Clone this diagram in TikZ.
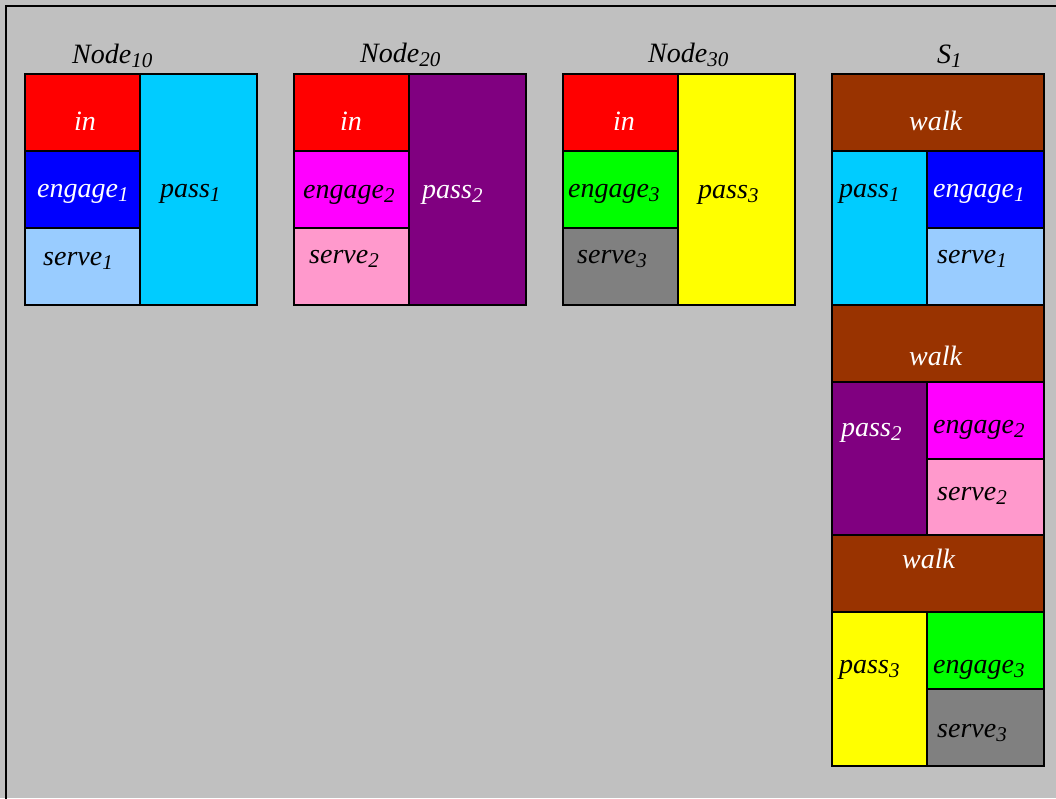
\documentclass[tikz,border=0pt]{standalone}
\usepackage{fontspec}
\setmainfont{Liberation Serif}
\usetikzlibrary{positioning}
\definecolor{bggray}{HTML}{C0C0C0}
\definecolor{inred}{HTML}{FF0000}
\definecolor{engblue}{HTML}{0000FF}
\definecolor{srvblue}{HTML}{99CCFF}
\definecolor{pscyan}{HTML}{00CCFF}
\definecolor{engmag}{HTML}{FF00FF}
\definecolor{srvpink}{HTML}{FF99CC}
\definecolor{pspurple}{HTML}{800080}
\definecolor{enggreen}{HTML}{00FF00}
\definecolor{srvgray}{HTML}{808080}
\definecolor{psyellow}{HTML}{FFFF00}
\definecolor{walkbrown}{HTML}{993300}
\newcommand{\idx}[1]{\raisebox{-4.5pt}{\fontsize{21}{21}\selectfont #1}}
\tikzset{
  cell/.style={draw=black,line width=1.6pt,fill=#1,inner sep=0pt,outer sep=0pt,anchor=north west},
  lbl/.style={font=\fontsize{28}{30}\selectfont\itshape,text=#1,inner sep=0pt,anchor=base west},
  lbl/.default=black,
}
\begin{document}
\begin{tikzpicture}[x=1pt,y=-1pt]
  \clip (0,0) rectangle (1056,798);
  \fill[bggray] (0,0) rectangle (1056,798);
  \draw[line width=2.4pt] (6,6) rectangle (1080,820);
  % node blocks
  \foreach \x/\y/\w/\h/\c/\n in {
    25/74/115/77/inred/a-in, 25/151/115/77/engblue/a-eng, 25/228/115/77/srvblue/a-srv, 140/74/117/231/pscyan/a-pass,
    294/74/115/77/inred/b-in, 294/151/115/77/engmag/b-eng, 294/228/115/77/srvpink/b-srv, 409/74/117/231/pspurple/b-pass,
    563/74/115/77/inred/c-in, 563/151/115/77/enggreen/c-eng, 563/228/115/77/srvgray/c-srv, 678/74/117/231/psyellow/c-pass}
  {
    \node[cell=\c,minimum width=\w*1pt,minimum height=\h*1pt] (\n) at (\x,\y) {};
  }
  % S1 stack
  \foreach \y/\p/\e/\s/\k in {74/pscyan/engblue/srvblue/1, 305/pspurple/engmag/srvpink/2, 535/psyellow/enggreen/srvgray/3}
  {
    \node[cell=walkbrown,minimum width=212pt,minimum height=77pt] (s-walk\k) at (832,\y) {};
    \node[cell=\p,minimum width=95pt,minimum height=154pt] (s-pass\k) at (s-walk\k.south west) {};
    \node[cell=\e,minimum width=117pt,minimum height=77pt] (s-eng\k) at (s-pass\k.north east) {};
    \node[cell=\s,minimum width=117pt,minimum height=77pt] (s-srv\k) at (s-eng\k.south west) {};
  }
  % titles
  \node[lbl] (t-a) at (72,63) {Node\idx{10}};
  \node[lbl] (t-b) at (360,62) {Node\idx{20}};
  \node[lbl] (t-c) at (648,62) {Node\idx{30}};
  \node[lbl] (t-s) at (937,63) {S\idx{1}};
  % labels
  \node[lbl=white] (l-a-in) at (74,130) {in};
  \node[lbl=white] (l-a-eng) at (37,197) {engage\idx{1}};
  \node[lbl] (l-a-srv) at (43,265) {serve\idx{1}};
  \node[lbl] (l-a-pass) at (160,197) {pass\idx{1}};
  \node[lbl=white] (l-b-in) at (340,130) {in};
  \node[lbl] (l-b-eng) at (303,198) {engage\idx{2}};
  \node[lbl] (l-b-srv) at (309,263) {serve\idx{2}};
  \node[lbl=white] (l-b-pass) at (422,198) {pass\idx{2}};
  \node[lbl=white] (l-c-in) at (613,130) {in};
  \node[lbl] (l-c-eng) at (568,197) {engage\idx{3}};
  \node[lbl] (l-c-srv) at (577,263) {serve\idx{3}};
  \node[lbl] (l-c-pass) at (698,198) {pass\idx{3}};
  \node[lbl=white] (l-s-walk1) at (909,130) {walk};
  \node[lbl] (l-s-pass1) at (839,197) {pass\idx{1}};
  \node[lbl=white] (l-s-eng1) at (933,197) {engage\idx{1}};
  \node[lbl] (l-s-srv1) at (937,263) {serve\idx{1}};
  \node[lbl=white] (l-s-walk2) at (909,365) {walk};
  \node[lbl=white] (l-s-pass2) at (841,436) {pass\idx{2}};
  \node[lbl] (l-s-eng2) at (933,433) {engage\idx{2}};
  \node[lbl] (l-s-srv2) at (937,500) {serve\idx{2}};
  \node[lbl=white] (l-s-walk3) at (902,568) {walk};
  \node[lbl] (l-s-pass3) at (839,673) {pass\idx{3}};
  \node[lbl] (l-s-eng3) at (933,673) {engage\idx{3}};
  \node[lbl] (l-s-srv3) at (937,737) {serve\idx{3}};
\end{tikzpicture}
\end{document}
